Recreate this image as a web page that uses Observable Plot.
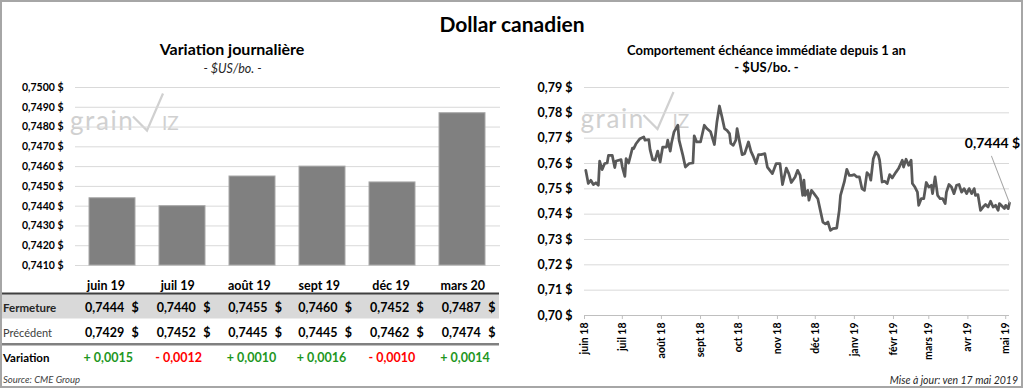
<!DOCTYPE html>
<html><head><meta charset="utf-8">
<script src="https://cdn.jsdelivr.net/npm/d3@7"></script>
<script src="https://cdn.jsdelivr.net/npm/@observablehq/plot@0.6"></script>
<style>
body{margin:0;background:#fff;}
#root{position:relative;width:1024px;height:388px;overflow:hidden;background:#fff;font-family:Lato,"Open Sans",sans-serif;}
.pos{position:absolute;}
#frame{position:absolute;left:0;top:0;width:1023px;height:388px;box-sizing:border-box;border:2px solid #a6a6a6;pointer-events:none;}
</style></head><body><div id="root"></div>
<script>
// ---------- DATA ----------
const contracts = ["juin 19","juil 19","août 19","sept 19","déc 19","mars 20"];
const closing   = [0.7444,0.7440,0.7455,0.7460,0.7452,0.7487];
const previous  = [0.7429,0.7452,0.7445,0.7445,0.7462,0.7474];
const variation = [0.0015,-0.0012,0.0010,0.0016,-0.0010,0.0014];
const barTicks  = [0.7410,0.7420,0.7430,0.7440,0.7450,0.7460,0.7470,0.7480,0.7490,0.7500];

const priceTicks  = [0.70,0.71,0.72,0.73,0.74,0.75,0.76,0.77,0.78,0.79];
const monthTicks  = ["2018-06-01","2018-07-01","2018-08-01","2018-09-01","2018-10-01","2018-11-01","2018-12-01","2019-01-01","2019-02-01","2019-03-01","2019-04-01","2019-05-01"];
const monthLabels = ["juin 18","juil 18","août 18","sept 18","oct 18","nov 18","déc 18","janv 19","févr 19","mars 19","avr 19","mai 19"];

const histDates = ["2018-06-02","2018-06-04","2018-06-06","2018-06-08","2018-06-10","2018-06-12","2018-06-13","2018-06-15","2018-06-17","2018-06-19",
"2018-06-20","2018-06-23","2018-06-25","2018-06-26","2018-06-30","2018-07-01","2018-07-03","2018-07-04","2018-07-06","2018-07-09",
"2018-07-10","2018-07-12","2018-07-15","2018-07-18","2018-07-19","2018-07-22","2018-07-23","2018-07-25","2018-07-27","2018-07-29",
"2018-07-31","2018-08-02","2018-08-05","2018-08-06","2018-08-08","2018-08-09","2018-08-11","2018-08-14","2018-08-15","2018-08-18",
"2018-08-20","2018-08-23","2018-08-26","2018-08-27","2018-08-29","2018-09-01","2018-09-04","2018-09-06","2018-09-09","2018-09-12",
"2018-09-14","2018-09-16","2018-09-18","2018-09-20","2018-09-22","2018-09-24","2018-09-25","2018-09-27","2018-09-29","2018-09-30",
"2018-10-02","2018-10-04","2018-10-06","2018-10-09","2018-10-11","2018-10-13","2018-10-15","2018-10-17","2018-10-19","2018-10-22",
"2018-10-24","2018-10-26","2018-10-28","2018-10-31","2018-11-03","2018-11-05","2018-11-08","2018-11-10","2018-11-12","2018-11-15",
"2018-11-17","2018-11-19","2018-11-21","2018-11-22","2018-11-23","2018-11-25","2018-11-26","2018-11-28","2018-11-30","2018-12-03",
"2018-12-05","2018-12-07","2018-12-09","2018-12-11","2018-12-13","2018-12-15","2018-12-18","2018-12-20","2018-12-21","2018-12-24",
"2018-12-26","2018-12-28","2018-12-30","2019-01-01","2019-01-03","2019-01-05","2019-01-07","2019-01-09","2019-01-11","2019-01-13",
"2019-01-14","2019-01-16","2019-01-18","2019-01-20","2019-01-21","2019-01-23","2019-01-25","2019-01-27","2019-01-29","2019-01-31",
"2019-02-03","2019-02-05","2019-02-08","2019-02-09","2019-02-11","2019-02-13","2019-02-15","2019-02-16","2019-02-18","2019-02-20",
"2019-02-21","2019-02-23","2019-02-25","2019-02-27","2019-03-01","2019-03-03","2019-03-04","2019-03-06","2019-03-08","2019-03-10",
"2019-03-12","2019-03-14","2019-03-15","2019-03-17","2019-03-19","2019-03-21","2019-03-23","2019-03-25","2019-03-27","2019-03-29",
"2019-03-31","2019-04-02","2019-04-04","2019-04-06","2019-04-07","2019-04-09","2019-04-11","2019-04-13","2019-04-15","2019-04-17",
"2019-04-19","2019-04-21","2019-04-23","2019-04-25","2019-04-26","2019-04-28","2019-04-30","2019-05-01","2019-05-03","2019-05-04"];
const histValues = [0.7573,0.7521,0.7534,0.7517,0.7524,0.7514,0.7609,0.7576,0.7600,0.7602,
0.7632,0.7632,0.7584,0.7610,0.7615,0.7586,0.7549,0.7619,0.7602,0.7661,
0.7659,0.7679,0.7698,0.7705,0.7692,0.7694,0.7655,0.7615,0.7613,0.7649,
0.7606,0.7665,0.7665,0.7692,0.7649,0.7681,0.7725,0.7751,0.7692,0.7632,
0.7586,0.7600,0.7602,0.7709,0.7685,0.7685,0.7751,0.7738,0.7725,0.7675,
0.7764,0.7827,0.7784,0.7738,0.7731,0.7718,0.7679,0.7672,0.7692,0.7738,
0.7685,0.7635,0.7639,0.7685,0.7648,0.7626,0.7600,0.7635,0.7635,0.7639,
0.7586,0.7573,0.7560,0.7600,0.7600,0.7517,0.7582,0.7560,0.7525,0.7547,
0.7573,0.7553,0.7474,0.7534,0.7474,0.7494,0.7455,0.7494,0.7481,0.7461,
0.7415,0.7369,0.7362,0.7369,0.7336,0.7343,0.7345,0.7415,0.7474,0.7527,
0.7577,0.7553,0.7553,0.7556,0.7547,0.7547,0.7501,0.7494,0.7564,0.7553,
0.7534,0.7619,0.7645,0.7632,0.7613,0.7527,0.7530,0.7521,0.7556,0.7543,
0.7566,0.7580,0.7613,0.7586,0.7617,0.7593,0.7613,0.7521,0.7507,0.7487,
0.7435,0.7461,0.7461,0.7525,0.7507,0.7514,0.7481,0.7547,0.7474,0.7461,
0.7461,0.7442,0.7487,0.7517,0.7507,0.7481,0.7514,0.7517,0.7487,0.7501,
0.7481,0.7501,0.7481,0.7501,0.7474,0.7477,0.7415,0.7428,0.7438,0.7428,
0.7451,0.7428,0.7435,0.7415,0.7442,0.7432,0.7422,0.7435,0.7422,0.7444];

// ---------- HELPERS ----------
const FONT = "Lato, 'Open Sans', sans-serif";
const comma = (v, n) => v.toFixed(n).replace(".", ",");
const root = d3.select("#root");

// base layer (table, titles, watermark)
const base = root.append("svg").attr("class","pos").attr("width",1024).attr("height",388)
  .style("left","0px").style("top","0px").style("font-family", FONT);

function txt(x, y, s, o = {}) {
  return base.append("text").attr("x", x).attr("y", y).text(s)
    .attr("font-size", o.size || 12).attr("font-weight", o.weight || "normal")
    .attr("font-style", o.style || "normal").attr("text-anchor", o.anchor || "start")
    .attr("fill", o.fill || "#000");
}
function watermark(ox, oy) {
  const g = base.append("g").attr("transform", `translate(${ox},${oy})`).attr("fill", "#d0d0d0");
  g.append("text").attr("x", 0).attr("y", 37).attr("font-size", 26).attr("letter-spacing", 1.6).text("grain");
  g.append("polyline").attr("points", "63,24 77,38 93,1").attr("fill", "none")
    .attr("stroke", "#d0d0d0").attr("stroke-width", 2.2);
  g.append("text").attr("x", 92).attr("y", 37).attr("font-size", 19).text("IZ");
}

// titles
txt(512, 32, "Dollar canadien", {size: 21, weight: "bold", anchor: "middle"});
txt(232, 54.5, "Variation journalière", {size: 16, weight: "bold", anchor: "middle"});
txt(232.5, 73, "- $US/bo. -", {size: 12.5, style: "italic", anchor: "middle", fill: "#262626"});
txt(766.5, 55, "Comportement échéance immédiate depuis 1 an", {size: 13, weight: "bold", anchor: "middle"});
txt(766.5, 72, "- $US/bo. -", {size: 13, weight: "bold", anchor: "middle"});

watermark(70, 92.5);
watermark(580.5, 91);

// table
const colLeft = [85, 156.7, 228.3, 298.3, 370, 441.7];
base.append("rect").attr("x", 2).attr("y", 293.5).attr("width", 497).attr("height", 25).attr("fill", "#d9d9d9");
base.append("line").attr("x1", 2).attr("x2", 499).attr("y1", 293.5).attr("y2", 293.5).attr("stroke", "#404040").attr("stroke-width", 2);
base.append("line").attr("x1", 2).attr("x2", 499).attr("y1", 344.3).attr("y2", 344.3).attr("stroke", "#808080").attr("stroke-width", 2.5);
txt(3, 311.5, "Fermeture", {size: 11.5, weight: "bold", fill: "#262626"});
txt(3, 336.5, "Précédent", {size: 11, fill: "#404040"});
txt(3, 362, "Variation", {size: 11.5, weight: "bold"});
contracts.forEach((c, i) => {
  const L = colLeft[i];
  txt(L + 21, 289.5, c, {size: 12.5, weight: "bold", anchor: "middle"});
  txt(L, 311.5, comma(closing[i], 4), {size: 12.5, weight: "bold"});
  txt(L + 46.5, 311.5, "$", {size: 12.5, weight: "bold"});
  txt(L, 336.5, comma(previous[i], 4), {size: 12.5, weight: "bold"});
  txt(L + 46.5, 336.5, "$", {size: 12.5, weight: "bold"});
  const v = variation[i];
  txt(L - 1.5, 362, (v >= 0 ? "+ " : "- ") + comma(Math.abs(v), 4),
      {size: 12.5, weight: "bold", fill: v >= 0 ? "#1e961e" : "#ff0000"});
});
txt(3, 383, "Source: CME Group", {size: 9.5, style: "italic", fill: "#404040"});
txt(1018, 383.5, "Mise à jour: ven 17 mai 2019", {size: 10.5, style: "italic", anchor: "end", fill: "#262626"});

// ---------- LEFT CHART (bars) ----------
const bars = contracts.map((c, i) => ({contract: c, close: closing[i]}));
const leftPlot = Plot.plot({
  width: 510, height: 200,
  marginLeft: 75, marginRight: 10, marginTop: 12, marginBottom: 10,
  style: {background: "transparent", fontFamily: FONT, color: "#000"},
  x: {type: "band", domain: contracts, paddingInner: 0.34, paddingOuter: 0.17, axis: null},
  y: {domain: [barTicks[0], barTicks[barTicks.length - 1]], label: null, axis: null},
  marks: [
    Plot.gridY(barTicks, {stroke: "#d9d9d9", strokeOpacity: 1}),
    Plot.barY(bars, {x: "contract", y1: () => barTicks[0], y2: "close", fill: "#808080", stroke: "#a8a8a8", strokeWidth: 1}),
    Plot.axisY(barTicks, {tickSize: 0, tickPadding: 12, fontWeight: "bold", fontSize: 10.5, label: null,
      tickFormat: d => comma(d, 4) + " $"})
  ]
});
root.append("div").attr("class", "pos").style("left", "0px").style("top", "75px").node().appendChild(leftPlot);

// ---------- RIGHT CHART (line) ----------
const hist = histDates.map((d, i) => ({date: new Date(d), value: histValues[i]}));
const last = hist[hist.length - 1];
const monthDates = monthTicks.map(d => new Date(d));
const labelOf = new Map(monthDates.map((d, i) => [+d, monthLabels[i]]));
const leader = {draw(context, l) { context.moveTo(0, 0); context.lineTo(0, -l); }};

const rightPlot = Plot.plot({
  width: 514, height: 300,
  marginLeft: 74, marginRight: 15, marginTop: 12, marginBottom: 60,
  style: {background: "transparent", fontFamily: FONT, color: "#000", overflow: "visible"},
  x: {type: "utc", domain: [monthDates[0], last.date], label: null, axis: null},
  y: {domain: [priceTicks[0], priceTicks[priceTicks.length - 1]], label: null, axis: null},
  marks: [
    Plot.gridY(priceTicks, {stroke: "#d9d9d9", strokeOpacity: 1}),
    Plot.ruleY([priceTicks[0]], {stroke: "#bfbfbf"}),
    Plot.axisY(priceTicks, {tickSize: 0, tickPadding: 12, fontWeight: "bold", fontSize: 12.5, label: null,
      tickFormat: d => comma(d, 2) + " $"}),
    Plot.axisX(monthDates, {tickRotate: -90, tickSize: 4, tickPadding: 3, fontWeight: "bold", fontSize: 10.5,
      stroke: "#bfbfbf", fill: "#000", label: null, tickFormat: d => labelOf.get(+d)}),
    Plot.line(hist, {x: "date", y: "value", stroke: "#595959", strokeWidth: 2.75, strokeLinejoin: "round"}),
    Plot.vector([last], {x: "date", y: "value", length: 50, rotate: -21, anchor: "start", shape: leader,
      stroke: "#a6a6a6", strokeWidth: 1}),
    Plot.text([last], {x: "date", y: "value", text: d => comma(d.value, 4) + " $", dx: -17, dy: -60,
      fontWeight: "bold", fontSize: 14, fill: "#000"})
  ]
});
root.append("div").attr("class", "pos").style("left", "510px").style("top", "75px").node().appendChild(rightPlot);

root.append("div").attr("id", "frame");
</script></body></html>
